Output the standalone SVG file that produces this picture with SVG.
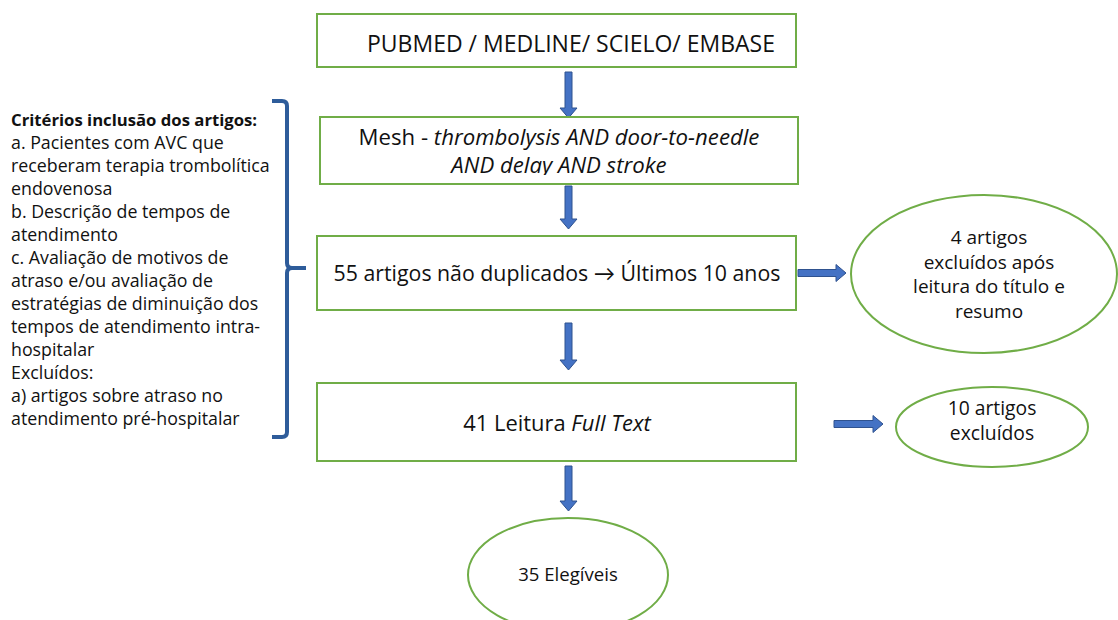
<svg xmlns="http://www.w3.org/2000/svg" width="1118" height="620" viewBox="0 0 1118 620">
<style>
text{font-family:"Open Sans",Lato,"Liberation Sans",sans-serif;fill:#111}
.box{fill:#fff;stroke:#70ad47;stroke-width:2}
.ell{fill:#fff;stroke:#70ad47;stroke-width:2}
.arr{fill:#4472c4;stroke:#2f528f;stroke-width:1}
.c{text-anchor:middle}
.lt{font-size:17.8px}
</style>
<defs>
<clipPath id="clipMesh"><rect x="320" y="117" width="478" height="58"/></clipPath>
</defs>
<rect width="1118" height="620" fill="#fff"/>
<g id="connectors">
<path class="arr" d="M565,72 h7 v36 h5 l-8.5,10 l-8.5,-10 h5 z"/>
<path class="arr" d="M565,186 h7 v33 h5 l-8.5,10 l-8.5,-10 h5 z"/>
<path class="arr" d="M565,323 h7 v37 h5 l-8.5,10 l-8.5,-10 h5 z"/>
<path class="arr" d="M565,466 h7 v35 h5 l-8.5,10 l-8.5,-10 h5 z"/>
<path class="arr" d="M798,269.5 h38 v-5 l10,8.5 l-10,8.5 v-5 h-38 z"/>
<path class="arr" d="M834,420.5 h39 v-5 l10,8.5 l-10,8.5 v-5 h-39 z"/>
</g>
<g id="criteria">
<path d="M272,101 h10 q5,0 5,5 v157 q0,5 5,5 h14 M292,268 q-5,0 -5,5 v159 q0,5 -5,5 h-10" fill="none" stroke="#2e5c9a" stroke-width="4"/>
<text x="11" y="126" font-size="16.7" font-weight="bold">Critérios inclusão dos artigos:</text>
<text class="lt" x="11" y="149">a. Pacientes com AVC que</text>
<text class="lt" x="11" y="172">receberam terapia trombolítica</text>
<text class="lt" x="11" y="195">endovenosa</text>
<text class="lt" x="11" y="218">b. Descrição de tempos de</text>
<text class="lt" x="11" y="241">atendimento</text>
<text class="lt" x="11" y="264">c. Avaliação de motivos de</text>
<text class="lt" x="11" y="287">atraso e/ou avaliação de</text>
<text class="lt" x="11" y="310">estratégias de diminuição dos</text>
<text class="lt" x="11" y="333">tempos de atendimento intra-</text>
<text class="lt" x="11" y="356">hospitalar</text>
<text class="lt" x="11" y="379">Excluídos:</text>
<text class="lt" x="11" y="402">a) artigos sobre atraso no</text>
<text class="lt" x="11" y="425">atendimento pré-hospitalar</text>
</g>
<g id="n1">
<rect class="box" x="317" y="14" width="479" height="53"/>
<text class="c" font-size="23" x="571" y="52">PUBMED / MEDLINE/ SCIELO/ EMBASE</text>
</g>
<g id="n2">
<rect class="box" x="320" y="117" width="478" height="67"/>
<g clip-path="url(#clipMesh)">
<text class="c" font-size="22.2" x="559" y="145">Mesh - <tspan font-style="italic">thrombolysis AND door-to-needle</tspan></text>
<text class="c" font-size="22.2" x="559" y="173" font-style="italic">AND delay AND stroke</text>
</g>
</g>
<g id="n3">
<rect class="box" x="317" y="236" width="479" height="74"/>
<text class="c" font-size="21.3" x="557" y="281">55 artigos não duplicados → Últimos 10 anos</text>
</g>
<g id="n4">
<rect class="box" x="317" y="383" width="479" height="78"/>
<text class="c" font-size="21.9" x="557" y="431">41 Leitura <tspan font-style="italic">Full Text</tspan></text>
</g>
<g id="n5">
<ellipse class="ell" cx="984" cy="274" rx="133" ry="79"/>
<text class="c" font-size="19" x="989" y="244">4 artigos</text>
<text class="c" font-size="19" x="989" y="268.5">excluídos após</text>
<text class="c" font-size="19" x="989" y="293">leitura do título e</text>
<text class="c" font-size="19" x="989" y="317.5">resumo</text>
</g>
<g id="n6">
<ellipse class="ell" cx="992" cy="427" rx="96" ry="40"/>
<text class="c" font-size="19.3" x="992" y="415">10 artigos</text>
<text class="c" font-size="19.3" x="992" y="440">excluídos</text>
</g>
<g id="n7">
<ellipse class="ell" cx="568" cy="575" rx="100" ry="57"/>
<text class="c" font-size="18.6" x="568" y="581">35 Elegíveis</text>
</g>
</svg>
